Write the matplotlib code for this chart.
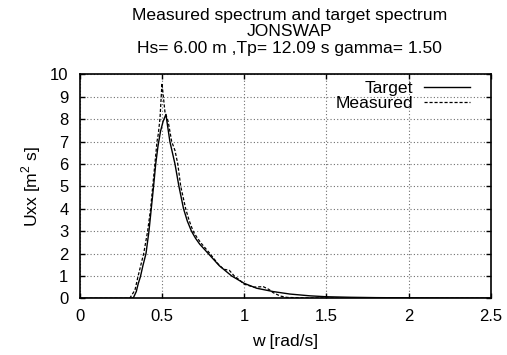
import matplotlib
matplotlib.use("Agg")
import matplotlib.pyplot as plt

# Target (JONSWAP) spectrum, frequency w [rad/s] and density Uxx [m^2 s]
target_w = [0.0, 0.30, 0.327, 0.345, 0.357, 0.37, 0.385, 0.404, 0.422, 0.436,
            0.45, 0.463, 0.477, 0.492, 0.508, 0.525, 0.549, 0.58, 0.604, 0.632,
            0.655, 0.68, 0.705, 0.73, 0.782, 0.85, 0.924, 1.0, 1.076, 1.177,
            1.278, 1.40, 1.50, 1.65, 1.80, 2.0, 2.25, 2.5]
target_u = [0.0, 0.0, 0.02, 0.3, 0.66, 0.96, 1.45, 2.0, 3.0, 4.0,
            5.0, 6.0, 6.8, 7.45, 7.9, 8.21, 7.0, 6.0, 5.0, 4.0,
            3.45, 3.0, 2.68, 2.42, 2.0, 1.45, 1.0, 0.67, 0.45, 0.3,
            0.19, 0.11, 0.07, 0.045, 0.03, 0.02, 0.012, 0.008]

# Measured spectrum
measured_w = [0.0, 0.30, 0.307, 0.337, 0.355, 0.39, 0.414, 0.432, 0.445, 0.458,
              0.471, 0.479, 0.489, 0.501, 0.519, 0.539, 0.56, 0.58, 0.597, 0.615,
              0.645, 0.665, 0.69, 0.715, 0.74, 0.792, 0.84, 0.875, 0.91, 0.94,
              0.975, 1.0, 1.06, 1.116, 1.15, 1.177, 1.22, 1.26, 1.35, 1.5,
              2.0, 2.5]
measured_u = [0.0, 0.0, 0.02, 0.37, 0.96, 2.0, 3.0, 4.0, 5.0, 6.0,
              7.0, 7.35, 8.03, 9.6, 8.33, 7.88, 7.0, 6.6, 6.0, 5.0,
              4.0, 3.5, 3.0, 2.7, 2.45, 2.0, 1.55, 1.3, 1.25, 1.0,
              0.8, 0.63, 0.5, 0.52, 0.4, 0.25, 0.1, 0.04, 0.02, 0.01,
              0.005, 0.003]

x_ticks = [0, 0.5, 1, 1.5, 2, 2.5]
x_tick_labels = ["0", "0.5", "1", "1.5", "2", "2.5"]
y_ticks = list(range(0, 11))
y_tick_labels = [str(v) for v in y_ticks]

title_lines = ["Measured spectrum and target spectrum",
               "JONSWAP",
               "Hs= 6.00 m ,Tp= 12.09 s gamma= 1.50"]

plt.rcParams["font.family"] = ["Liberation Sans", "DejaVu Sans"]
plt.rcParams["mathtext.fontset"] = "custom"
plt.rcParams["mathtext.rm"] = "Liberation Sans"
FS = 12
FS_TITLE = 12.6

W, H = 507, 355
fig = plt.figure(figsize=(W / 100, H / 100), dpi=100)
ax = fig.add_axes([79.5 / W, 1 - 298.3 / H, (491 - 79.5) / W, (298.3 - 74.3) / H])

ax.plot(target_w, target_u, color="black", lw=1.0, label="Target")
ax.plot(measured_w, measured_u, color="black", lw=0.9,
        linestyle=(0, (2.5, 1.5)), label="Measured")

ax.set_xlim(0, 2.5)
ax.set_ylim(0, 10)
ax.set_xticks(x_ticks, x_tick_labels)
ax.set_yticks(y_ticks, y_tick_labels)
ax.tick_params(direction="in", length=3.5, width=1.0, labelsize=FS,
               top=True, right=True, colors="black")
ax.tick_params(axis="y", pad=8)
ax.tick_params(axis="x", pad=8)
for s in ax.spines.values():
    s.set_linewidth(1.2)

ax.grid(True, color="#707070", linestyle=(0, (1, 2)), linewidth=0.8)
ax.set_axisbelow(True)

ax.set_xlabel("w [rad/s]", fontsize=FS_TITLE, labelpad=7)
ax.set_ylabel(r"Uxx [m$^2$ s]", fontsize=FS_TITLE, labelpad=5)

for i, line in enumerate(title_lines):
    fig.text(289.5 / W, 1 - (15.5 + 16.5 * i) / H, line, fontsize=FS_TITLE,
             ha="center", va="center")

ax.legend(loc="upper right", markerfirst=False, frameon=False, fontsize=FS_TITLE,
          handlelength=2.65, handletextpad=0.62, labelspacing=0.0,
          borderpad=0, borderaxespad=0,
          bbox_to_anchor=((470 - 79.5) / 411.5, (298.3 - 81) / 224))

fig.savefig("out.png", dpi=100)
